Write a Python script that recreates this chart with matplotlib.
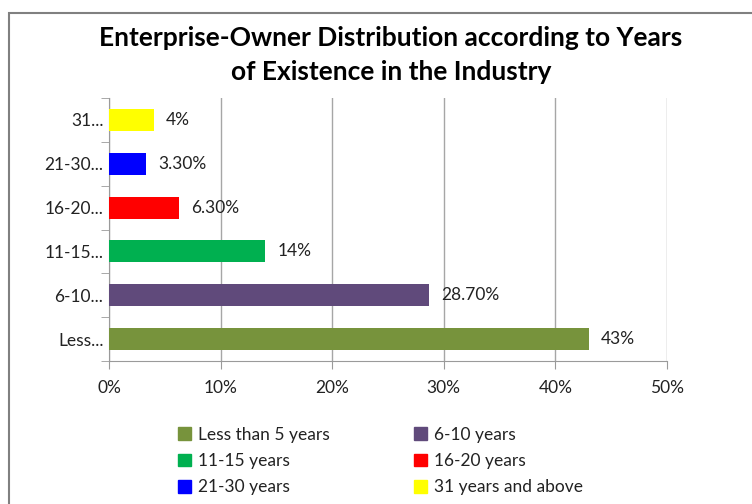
import matplotlib.pyplot as plt
from matplotlib.patches import Patch, Rectangle

plt.rcParams['font.family'] = ['Lato', 'DejaVu Sans']

# Data
categories = ['Less...', '6-10...', '11-15...', '16-20...', '21-30...', '31...']
legend_names = ['Less than 5 years', '6-10 years', '11-15 years',
                '16-20 years', '21-30 years', '31 years and above']
values = [43, 28.7, 14, 6.3, 3.3, 4]
value_labels = ['43%', '28.70%', '14%', '6.30%', '3.30%', '4%']
colors = ['#77933C', '#604A7B', '#00B050', '#FF0000', '#0000FF', '#FFFF00']
x_ticks = [0, 10, 20, 30, 40, 50]

fig = plt.figure(figsize=(7.52, 5.04), dpi=100)
ax = fig.add_axes([109 / 752, 1 - 361 / 504, 558 / 752, 263 / 504])

# outer chart border
fig.patches.append(Rectangle((9 / 752, -0.1), 1.0, 1 - 13 / 504 + 0.1,
                             transform=fig.transFigure, fill=False,
                             edgecolor='#808080', linewidth=1.5))

y = list(range(len(categories)))
ax.barh(y, values, height=0.5, color=colors, zorder=3)
for yi, v, lab in zip(y, values, value_labels):
    ax.text(v + 1.1, yi, lab, va='center', ha='left', fontsize=12.5, color='#222222')

ax.set_xlim(0, 50)
ax.set_ylim(-0.5, len(categories) - 0.5)
ax.set_xticks(x_ticks)
ax.set_xticklabels([f'{t}%' for t in x_ticks], fontsize=12.5, color='#222222')
ax.set_yticks(y)
ax.set_yticklabels(categories, fontsize=12.5, color='#222222')
ax.set_yticks([i + 0.5 for i in range(-1, len(categories))], minor=True)
ax.tick_params(axis='y', which='major', length=0, pad=4)
ax.tick_params(axis='y', which='minor', length=6, color='#9a9a9a')
ax.tick_params(axis='x', length=6, color='#9a9a9a', pad=8)
ax.grid(axis='x', color='#a6a6a6', linewidth=1, zorder=0)
for s in ['top', 'right']:
    ax.spines[s].set_visible(False)
for s in ['left', 'bottom']:
    ax.spines[s].set_color('#9a9a9a')

fig.suptitle('Enterprise-Owner Distribution according to Years\nof Existence in the Industry',
             fontsize=19, fontweight='bold', x=391 / 752, y=1 - 26 / 504, linespacing=1.48)

# legend: row-wise order -> reorder for column-wise fill
order = [0, 2, 4, 1, 3, 5]
handles = [Patch(color=colors[i]) for i in order]
labels = [legend_names[i] for i in order]
fig.legend(handles, labels, ncol=2, loc='upper left', bbox_to_anchor=(162 / 752, 1 - 411 / 504),
           frameon=False, fontsize=12.5, handlelength=0.75, handleheight=0.75,
           handletextpad=0.4, columnspacing=4.9, labelspacing=0.6,
           labelcolor='#222222')

fig.savefig('out.png', dpi=100)
